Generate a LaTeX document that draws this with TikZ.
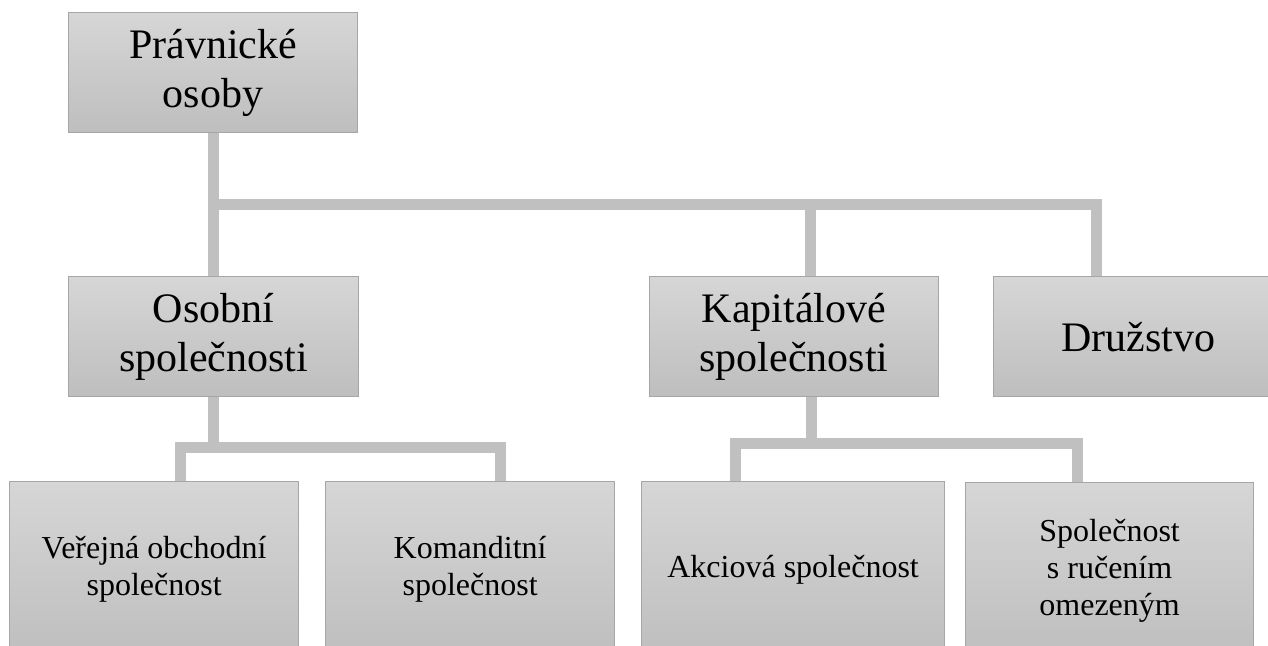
\documentclass[tikz,border=0pt]{standalone}
\usepackage{fontspec}
\setmainfont{Liberation Serif}
\definecolor{boxtop}{RGB}{214,214,214}
\definecolor{boxbot}{RGB}{190,190,190}
\definecolor{boxedge}{RGB}{166,166,166}
\definecolor{spojka}{RGB}{192,192,192}
\tikzset{
  box/.style={draw=boxedge, line width=0.6pt, top color=boxtop, bottom color=boxbot,
    align=center, inner sep=0pt},
  velky/.style={font=\fontsize{21}{24.5}\selectfont, minimum height=60pt},
  maly/.style={font=\fontsize{16}{18.5}\selectfont, minimum height=88pt},
  spoj/.style={draw=spojka, line width=5.5pt, line join=miter},
}
\begin{document}
\begin{tikzpicture}[x=0.5pt,y=-0.5pt,anchor=north west]
\clip (0,0) rectangle (1268,645);
% spojnice
\coordinate (h1) at (213.5,204.5); \coordinate (k1) at (810.5,204.5); \coordinate (d1) at (1096,204.5);
\coordinate (o1) at (213.5,447); \coordinate (o2) at (180.5,447); \coordinate (o3) at (500.5,447);
\coordinate (a1) at (811,443); \coordinate (a2) at (735.5,443); \coordinate (a3) at (1077,443);
% uzly
\node[box,velky,minimum width=144.5pt] (pravo) at (68,12) {Právnické\\osoby};
\node[box,velky,minimum width=145pt] (osob) at (68,276) {Osobní\\společnosti};
\node[box,velky,minimum width=144.5pt] (kapit) at (649,276) {Kapitálové\\společnosti};
\node[box,velky,minimum width=145pt] (druz) at (993,276) {Družstvo};
\node[box,maly,minimum width=144.5pt] (vos) at (9,481) {Veřejná obchodní\\společnost};
\node[box,maly,minimum width=144.5pt] (ks) at (325,481) {Komanditní\\společnost};
\node[box,maly,minimum width=151.5pt] (as) at (641,481) {Akciová společnost};
\node[box,maly,minimum width=144pt] (sro) at (965,482) {Společnost\\s ručením\\omezeným};
\draw[spoj] (pravo.south -| h1) -- (h1) -- (d1) -- (d1 |- druz.north);
\draw[spoj] (h1) -- (h1 |- osob.north);
\draw[spoj] (k1) -- (k1 |- kapit.north);
\draw[spoj] (osob.south -| o1) -- (o1);
\draw[spoj] (vos.north -| o2) -- (o2) -- (o3) -- (o3 |- ks.north);
\draw[spoj] (kapit.south -| a1) -- (a1);
\draw[spoj] (as.north -| a2) -- (a2) -- (a3) -- (a3 |- sro.north);
\end{tikzpicture}
\end{document}
